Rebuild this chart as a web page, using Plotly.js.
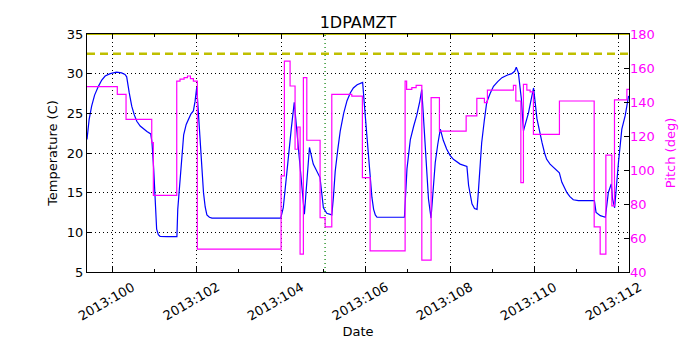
<!DOCTYPE html>
<html>
<head>
<meta charset="utf-8">
<script src="https://cdn.plot.ly/plotly-3.0.1.min.js"></script>
<style>
  body { margin: 0; background: #fff; }
  #plot { width: 700px; height: 350px; }
</style>
</head>
<body>
<div id="plot"></div>
<script>
// temperature (1DPAMZT), day of year 2013
var tempDays = [99.40, 99.45, 99.51, 99.58, 99.67, 99.75, 99.83, 99.95, 100.10, 100.22, 100.30, 100.34,
    100.40, 100.46, 100.52, 100.58, 100.66, 100.74, 100.82, 100.91, 100.94, 100.98, 101.01, 101.05, 101.09, 101.13,
    101.30, 101.53, 101.55, 101.60, 101.64, 101.69, 101.75, 101.80, 101.86, 101.92, 101.96, 102.00,
    102.04, 102.08, 102.12, 102.16, 102.20, 102.24, 102.30, 102.36, 103.00, 103.99,
    104.05, 104.11, 104.17, 104.24, 104.31, 104.36, 104.41, 104.48, 104.55, 104.61, 104.67, 104.76, 104.85, 104.92,
    104.96, 105.00, 105.08, 105.20, 105.24, 105.28, 105.34, 105.40, 105.48, 105.56, 105.64, 105.71, 105.80, 105.91, 105.93,
    105.98, 106.03, 106.09, 106.15, 106.19, 106.23, 106.27, 106.50, 106.92,
    106.98, 107.06, 107.14, 107.21, 107.28, 107.33, 107.37, 107.41, 107.45, 107.49, 107.55, 107.60, 107.65, 107.71, 107.77,
    107.84, 107.92, 108.00, 108.08, 108.24, 108.40, 108.44, 108.48, 108.52, 108.58, 108.64, 108.67,
    108.71, 108.75, 108.81, 108.87, 108.95, 109.03, 109.13, 109.23, 109.35, 109.46, 109.53, 109.57, 109.62,
    109.69, 109.74, 109.80, 109.86, 109.92, 109.98, 110.06, 110.12, 110.18, 110.24, 110.29, 110.37, 110.45, 110.59,
    110.65, 110.71, 110.77, 110.84, 110.92, 111.04, 111.20, 111.42, 111.46, 111.56, 111.68,
    111.72, 111.75, 111.82, 111.85, 111.90, 111.94, 111.99, 112.07, 112.15, 112.23];
var tempVals = [21.7, 24.2, 25.9, 27.3, 28.4, 29.2, 29.7, 30.0, 30.2, 30.1, 29.9, 29.6,
    27.6, 25.9, 24.8, 24.0, 23.4, 23.0, 22.7, 22.4, 21.3, 18.0, 14.2, 10.4, 9.7, 9.5,
    9.45, 9.45, 12.9, 16.0, 19.4, 22.3, 23.6, 24.3, 24.9, 25.3, 26.5, 28.3,
    24.8, 21.3, 17.8, 15.0, 13.2, 12.2, 11.9, 11.8, 11.8, 11.8,
    13.1, 16.5, 19.8, 23.1, 26.4, 23.5, 20.7, 16.3, 12.3, 16.5, 20.7, 18.6, 17.6, 16.9,
    15.0, 13.1, 12.4, 12.2, 14.6, 17.7, 20.4, 22.8, 25.0, 26.6, 27.6, 28.2, 28.6, 28.9, 28.9,
    25.5, 22.0, 17.8, 14.4, 12.9, 12.2, 11.9, 11.9, 11.9,
    18.0, 21.7, 23.4, 24.7, 26.4, 28.0, 24.6, 21.3, 17.6, 14.2, 11.8, 15.3, 18.8, 21.1, 23.0,
    21.6, 20.5, 19.7, 19.2, 18.6, 18.3, 15.9, 14.5, 13.6, 13.0, 12.9, 15.0,
    18.3, 21.3, 24.0, 26.4, 27.5, 28.4, 29.0, 29.5, 29.8, 30.0, 30.3, 30.8, 30.1,
    26.8, 22.8, 24.0, 25.1, 26.7, 28.2, 24.3, 22.6, 21.3, 20.0, 19.2, 18.6, 18.2, 17.5,
    16.3, 15.6, 15.0, 14.5, 14.1, 14.0, 14.0, 14.0, 12.5, 12.1, 11.9,
    13.6, 15.0, 16.1, 14.2, 13.1, 15.9, 18.8, 23.0, 24.7, 27.2];

// pitch, step changes (value holds until next day value)
var pitchDays = [99.40, 100.118, 100.325, 100.934, 100.972, 101.526, 101.604, 101.70, 101.78, 101.85, 101.92,
    102.014, 103.998, 104.076, 104.211, 104.329, 104.393, 104.448, 104.526, 104.607, 104.922, 105.041,
    105.199, 105.673, 105.924, 106.107, 106.936, 106.972, 107.095, 107.197, 107.332, 107.552, 107.749,
    108.382, 108.635, 108.815, 108.886, 109.502, 109.559, 109.678, 109.739, 109.820, 109.898, 109.976,
    110.592, 111.415, 111.557, 111.692, 111.834, 111.896, 112.190, 112.24];
var pitchVals = [149.0, 144.5, 129.8, 116.1, 85.1, 152.3, 153.5, 154.3, 155.3, 153.7, 152.3,
    53.4, 96.5, 164.1, 149.4, 112.2, 125.3, 50.5, 154.3, 117.5, 72.0, 66.5,
    144.5, 143.5, 95.5, 52.4, 152.3, 147.4, 148.4, 149.8, 47.0, 142.6, 122.9,
    131.8, 142.1, 139.6, 147.0, 149.8, 140.6, 92.6, 150.4, 147.0, 145.9, 121.0,
    140.6, 66.5, 50.5, 108.8, 78.9, 141.2, 147.4, 147.4];

var planLimit = 32.5;
var upperLimit = 35;
var markerDay = 105.04;
var xRange = [99.40, 112.24];
var tickDays = [100, 102, 104, 106, 108, 110, 112];
var tickLabels = ['2013:100', '2013:102', '2013:104', '2013:106', '2013:108', '2013:110', '2013:112'];

var font = 'DejaVu Sans, sans-serif';

var traces = [
  { x: xRange, y: [upperLimit, upperLimit], mode: 'lines', line: { color: '#bfbf00', width: 2 }, hoverinfo: 'skip' },
  { x: xRange, y: [planLimit, planLimit], mode: 'lines', line: { color: '#bfbf00', width: 2.5, dash: '8px,5px' }, hoverinfo: 'skip' },
  { x: [markerDay, markerDay], y: [5, 35], mode: 'lines', line: { color: 'green', width: 1.2, dash: '1px,3px' }, hoverinfo: 'skip' },
  { x: tempDays, y: tempVals, mode: 'lines', name: '1DPAMZT', line: { color: 'blue', width: 1.2 } },
  { x: pitchDays, y: pitchVals, mode: 'lines', name: 'Pitch', yaxis: 'y2', line: { color: 'magenta', width: 1.2, shape: 'hv' } }
];

// rotated date labels centred on their ticks
var dateLabels = tickDays.map(function (d, i) {
  return {
    x: d, xref: 'x', y: 0, yref: 'paper', yshift: -29, xshift: -6,
    text: tickLabels[i], textangle: -30, showarrow: false,
    xanchor: 'center', yanchor: 'middle',
    font: { family: font, size: 13, color: 'black' }
  };
});

var layout = {
  width: 700,
  height: 350,
  showlegend: false,
  paper_bgcolor: 'white',
  plot_bgcolor: 'white',
  font: { family: font, size: 13, color: 'black' },
  margin: { l: 87, r: 71, t: 34, b: 78 },
  title: { text: '1DPAMZT', font: { family: font, size: 16, color: 'black' }, x: 0.5, xref: 'paper', y: 0.935, yanchor: 'middle' },
  annotations: dateLabels,
  xaxis: {
    range: xRange,
    tickvals: tickDays,
    showticklabels: false,
    ticks: 'inside', ticklen: 5, tickcolor: 'black',
    minor: { dtick: 1, tick0: 100, ticks: 'inside', ticklen: 3, tickcolor: 'black', showgrid: false },
    showgrid: true, gridcolor: 'black', gridwidth: 1, griddash: '1px,3px',
    showline: true, linecolor: 'black', linewidth: 1, mirror: 'ticks',
    zeroline: false,
    title: { text: 'Date', font: { size: 13 }, standoff: 54 }
  },
  yaxis: {
    range: [5, 35],
    dtick: 5,
    ticks: 'inside', ticklen: 5, tickcolor: 'black',
    showgrid: true, gridcolor: 'black', gridwidth: 1, griddash: '1px,3px',
    showline: true, linecolor: 'black', linewidth: 1, mirror: true,
    zeroline: false,
    title: { text: 'Temperature (C)', font: { size: 13 }, standoff: 6 }
  },
  yaxis2: {
    range: [40, 180],
    dtick: 20,
    overlaying: 'y',
    side: 'right',
    ticks: 'inside', ticklen: 5, tickcolor: 'black',
    tickfont: { color: 'magenta', size: 13 },
    showgrid: false, zeroline: false,
    showline: false,
    title: { text: 'Pitch (deg)', font: { color: 'magenta', size: 13 }, standoff: 12 }
  }
};

Plotly.newPlot(document.getElementById('plot'), traces, layout, { staticPlot: true });
</script>
</body>
</html>
